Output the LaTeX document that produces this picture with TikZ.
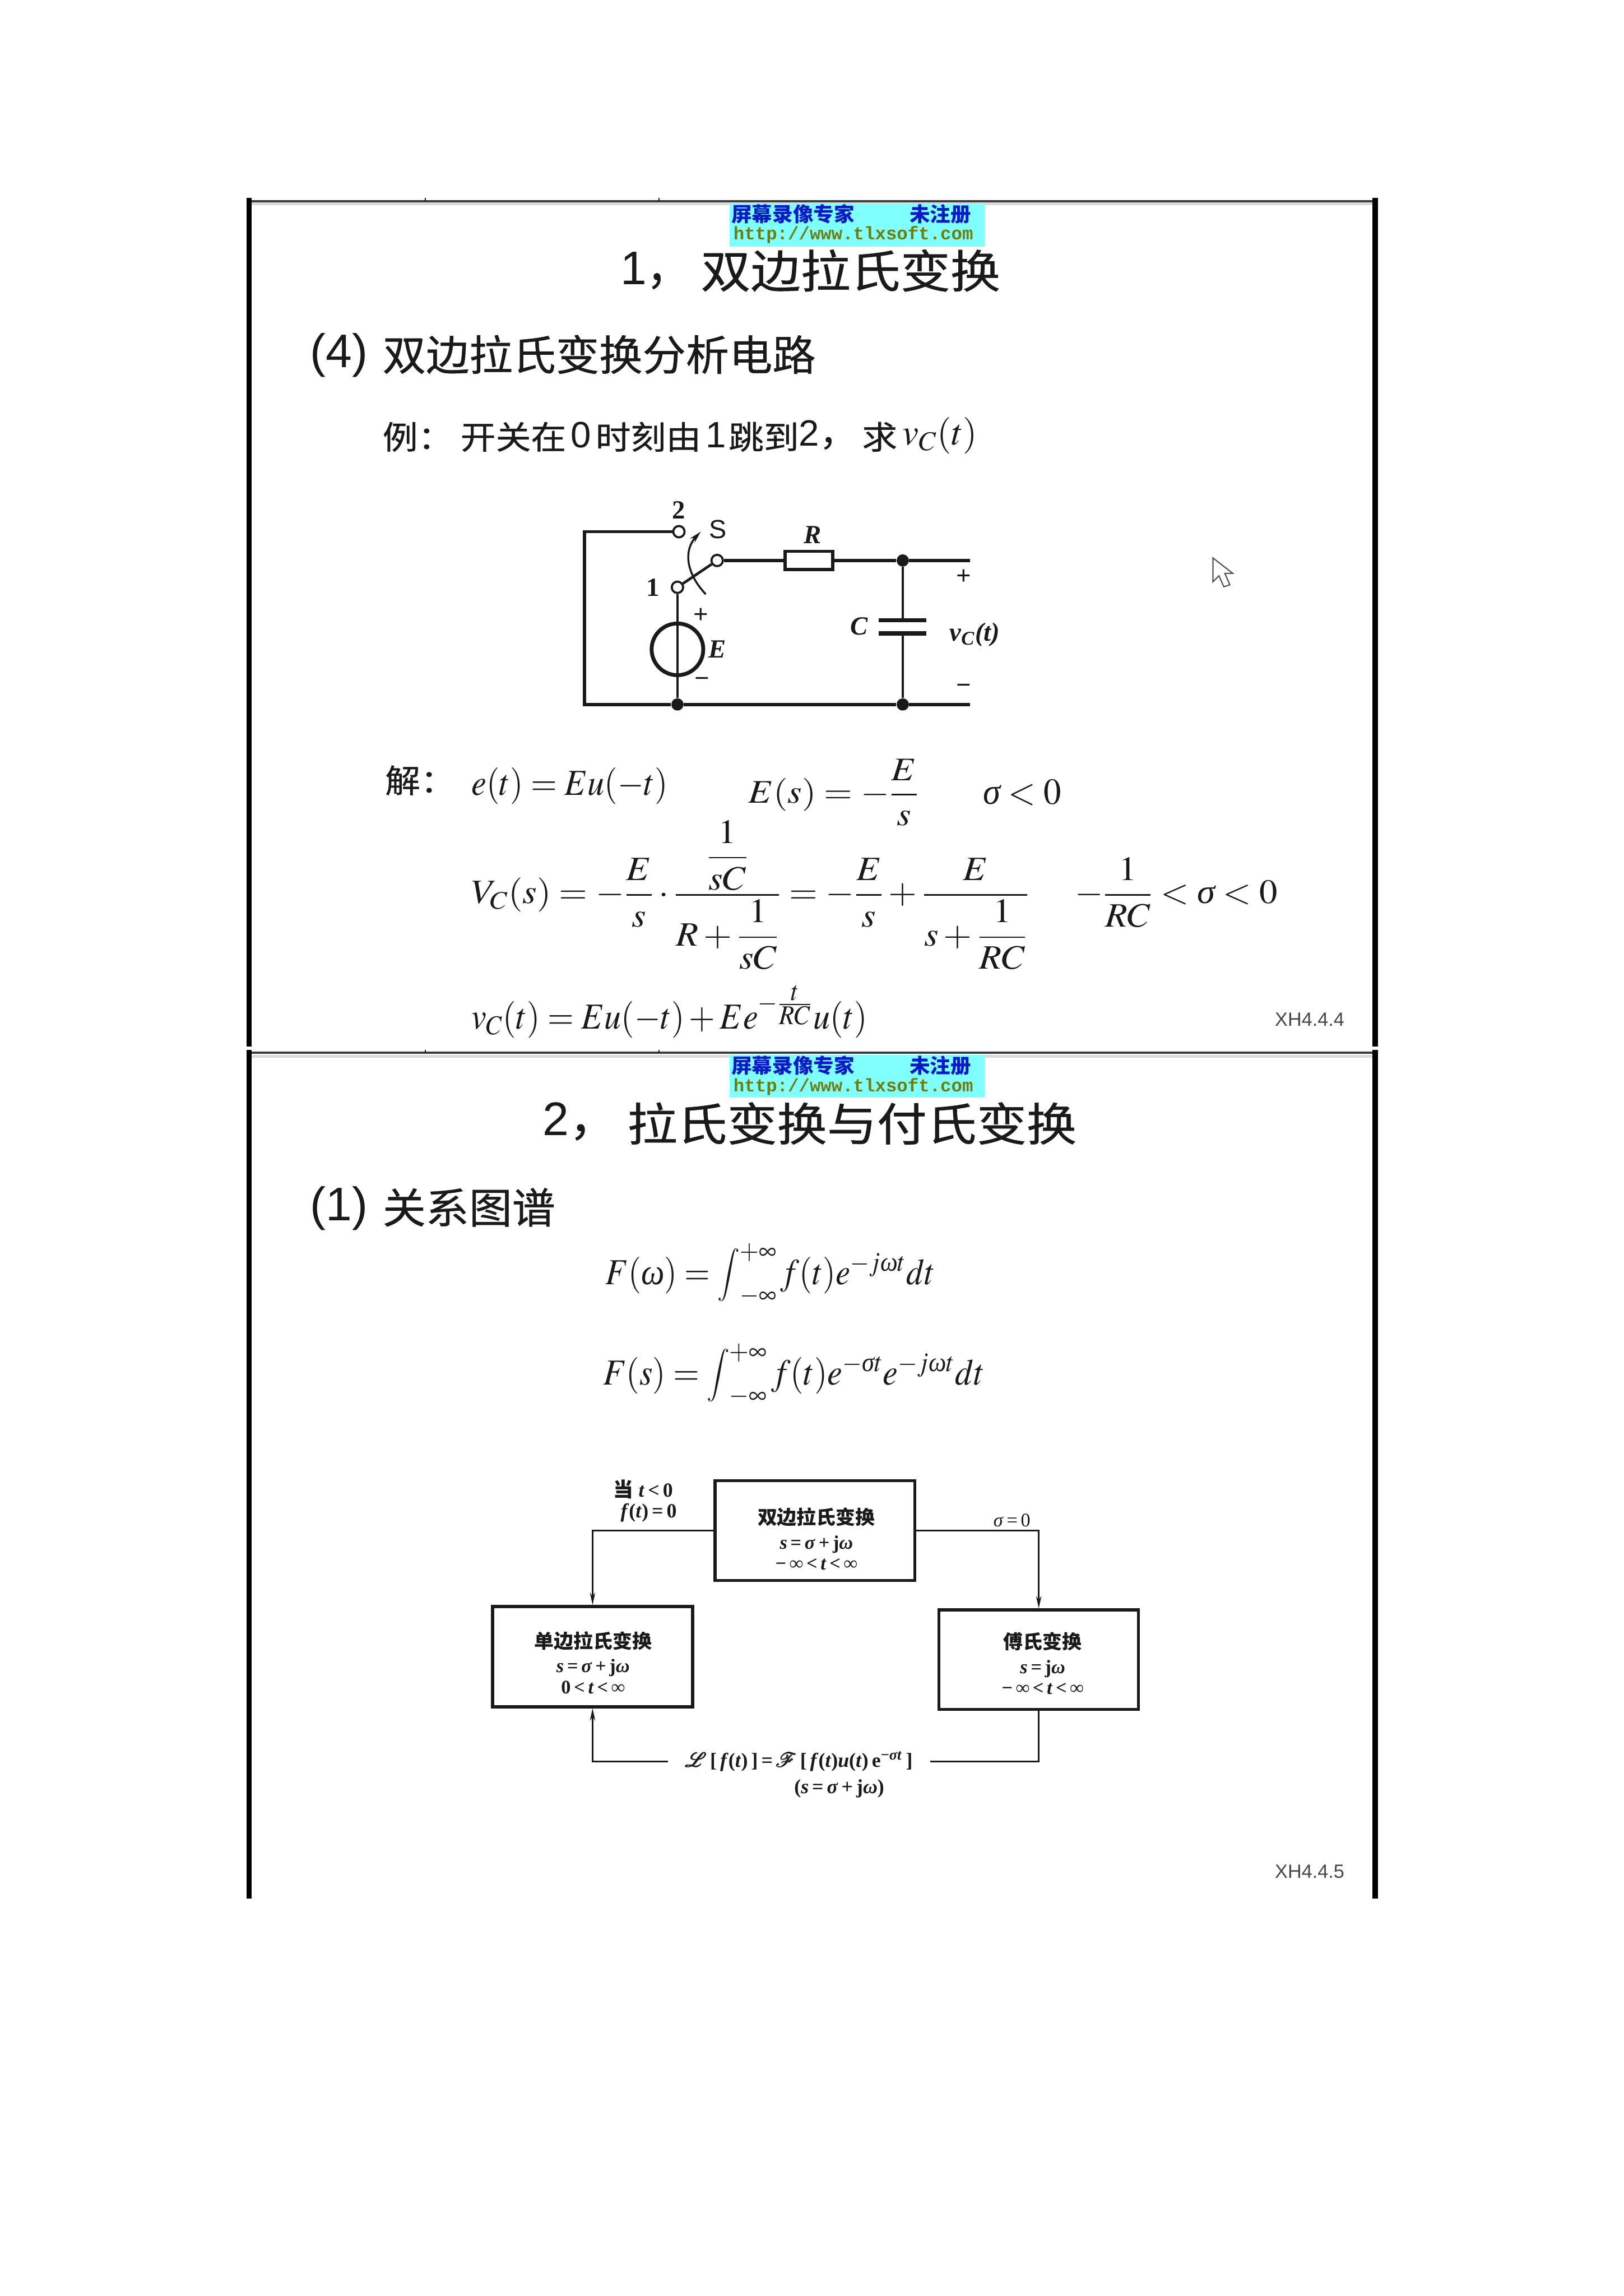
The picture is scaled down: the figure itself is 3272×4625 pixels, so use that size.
\documentclass[tikz,border=0pt]{standalone}
\usepackage{graphicx}
\usepackage{amsmath}
\usepackage{mathptmx}
\usepackage{fontspec}
\setmainfont{Liberation Serif}
\setsansfont{Liberation Sans}
\setmonofont{Liberation Mono}
\newfontfamily\cjkf[UprightFeatures={FakeBold=0.6}]{Noto Sans CJK SC}
\usetikzlibrary{arrows.meta,calc}
\newcommand{\cj}[2][1.15]{\scalebox{#1}[1]{\cjkf #2}}
\newcommand{\fs}[1]{\fontsize{#1}{#1}\selectfont}
\newcommand{\sg}{\text{\itshape σ}}
\newcommand{\og}{\text{\itshape ω}}
\newcommand{\eqx}[3]{\scalebox{#1}[#2]{#3}}
\newcommand{\tallint}{\mathop{\vcenter{\hbox{\scalebox{.75}[.72]{$\displaystyle\int$}}}}\nolimits}
\definecolor{ink}{HTML}{1A1A1A}
\definecolor{wmcyan}{HTML}{80FFFF}
\definecolor{wmblue}{HTML}{0A1AC8}
\definecolor{wmolive}{HTML}{6E7D10}
\tikzset{
  txt/.style={inner sep=0pt,outer sep=0pt,text=ink},
  wl/.style={txt,anchor=west},
  bw/.style={txt,anchor=base west},
  ttl/.style={wl,font=\fs{26}},
  sec/.style={wl,font=\fs{24}},
  numf/.style={wl,font=\sffamily\fs{27}},
  ln/.style={wl,font=\fs{18.5}},
  lnum/.style={wl,font=\sffamily\fs{21}},
  eqn/.style={bw,font=\fs{21}},
  wire/.style={draw=ink,line width=1.9pt},
  plate/.style={draw=ink,line width=2.3pt},
  conn/.style={draw=ink,line width=1.1pt},
  thinwire/.style={draw=ink,line width=1.5pt},
  connarrow/.style={conn,-{Stealth[length=7pt,width=3pt]}},
  term/.style={circle,draw=ink,fill=white,line width=1.2pt,inner sep=0pt,minimum size=6.5pt},
  jdot/.style={circle,fill=ink,inner sep=0pt,minimum size=7pt},
  clab/.style={txt,font=\bfseries\itshape\fs{15}},
  cnum/.style={txt,font=\bfseries\fs{15}},
  blockbox/.style={draw=ink,line width=1.7pt,fill=none,inner sep=0pt},
  blocktxt/.style={txt,align=center,font=\bfseries\fs{11}},
  small/.style={txt,font=\bfseries\fs{11.5}},
  code/.style={wl,font=\sffamily\fs{11},text=ink!80},
  wmbg/.style={fill=wmcyan,draw=none,inner sep=0pt,minimum width=5.13cm,minimum height=0.85cm},
  wmc/.style={wl,text=wmblue,font=\bfseries\fs{11.5}},
  wmu/.style={wl,text=wmolive,font=\ttfamily\bfseries\fs{10.4}},
  bar/.style={draw=black,line width=3pt},
  rule/.style={draw=ink!85,line width=1.3pt},
  shade/.style={draw=black!15,line width=1.6pt},
  tick/.style={draw=ink,line width=0.8pt},
}
\begin{document}
\begin{tikzpicture}[x=0.01cm,y=-0.01cm]
\path[use as bounding box,fill=white] (0,0) rectangle (3272,4625);
% ---- slide frames
\draw[bar] (502,399) -- (502,2108);
\draw[bar] (2771,399) -- (2771,2108);
\draw[bar] (502,2115) -- (502,3824);
\draw[bar] (2771,2115) -- (2771,3824);
\draw[shade] (507,411) -- (2765,411);
\draw[rule] (507,405) -- (2765,405);
\draw[shade] (507,2128) -- (2765,2128);
\draw[rule] (507,2121) -- (2765,2121);
\foreach \tx in {857,1328}{
  \draw[tick] (\tx,399) -- (\tx,405);
  \draw[tick] (\tx,2115) -- (\tx,2121);
}
% ---- watermarks
\node[wmbg] (wma) at (1727,454) {};
\node[wmc] (wma1) at (1474,431) {\cj[1.02]{屏幕录像专家}};
\node[wmc] (wma2) at (1833,431) {\cj[1.02]{未注册}};
\node[wmu] (wma3) at (1478,473) {http://www.tlxsoft.com};
\node[wmbg] (wmb) at (1727,2168) {};
\node[wmc] (wmb1) at (1474,2146) {\cj[1.02]{屏幕录像专家}};
\node[wmc] (wmb2) at (1833,2146) {\cj[1.02]{未注册}};
\node[wmu] (wmb3) at (1478,2189) {http://www.tlxsoft.com};
% ---- slide 1 headings
\node[numf] (t1n) at (1250,545) {1\cj[.9]{，}};
\node[ttl] (t1) at (1412,545) {\cj[1.1]{双边拉氏变换}};
\node[numf] (s1n) at (625,716) {(4)};
\node[sec] (s1) at (771,714) {\cj[1.034]{双边拉氏变换分析电路}};
\node[ln] (e1) at (771,880) {\cj[1.09]{例：}};
\node[ln] (e2) at (928,880) {\cj[1.09]{开关在}};
\node[lnum] (e3) at (1150,876) {0};
\node[ln] (e4) at (1200,880) {\cj[1.09]{时刻由}};
\node[lnum] (e5) at (1422,876) {1};
\node[ln] (e6) at (1468,880) {\cj[1.09]{跳到}};
\node[lnum] (e7) at (1610,876) {2\cj[1]{，}};
\node[ln] (e8) at (1737,880) {\cj[1.09]{求}};
\node[bw,font=\fs{21}] (e9) at (1819,896) {$v_C(t)$};
% ---- circuit
\coordinate (tlc) at (1178,1071);
\coordinate (blc) at (1178,1419);
\coordinate (vout) at (1955,1129);
\coordinate (gout) at (1955,1419);
\node[term] (t2) at (1368,1071) {};
\node[term] (t1p) at (1365,1183) {};
\node[term] (ts) at (1445,1129) {};
\node[draw=ink,line width=1.9pt,fill=white,minimum width=0.96cm,minimum height=0.37cm,inner sep=0pt] (R) at (1630,1129) {};
\node[jdot] (j1) at (1819,1129) {};
\node[jdot] (j2) at (1819,1419) {};
\node[jdot] (j3) at (1365,1419) {};
\node[draw=ink,line width=2.2pt,circle,minimum size=1.04cm,inner sep=0pt] (src) at (1365,1308) {};
\coordinate (c1) at (1819,1249);
\coordinate (c2) at (1819,1276);
\draw[wire] (t2) -- (tlc) -- (blc) -- (j3) -- (j2) -- (gout);
\draw[wire] (ts) -- (R) -- (j1) -- (vout);
\draw[thinwire] (j1) -- (c1) (c2) -- (j2);
\draw[plate] (1770,1249) -- (1866,1249) (1770,1276) -- (1866,1276);
\draw[thinwire] (t1p) -- (j3);
\draw[thinwire] (t1p) -- (ts);
\draw[conn,-{Stealth[length=7pt,width=3.5pt]}] (1422,1197) .. controls (1378,1150) and (1380,1105) .. (1412,1071);
\node[cnum] (l2) at (1368,1027) {2};
\node[txt,font=\sffamily\fs{15}] (lS) at (1446,1066) {S};
\node[clab] (lR) at (1637,1078) {R};
\node[cnum] (l1) at (1316,1183) {1};
\node[cnum] (lp1) at (1412,1240) {+};
\node[clab] (lE) at (1445,1308) {E};
\node[cnum] (lm1) at (1415,1374) {\textminus};
\node[cnum] (lp2) at (1942,1162) {+};
\node[cnum] (lm2) at (1942,1388) {\textminus};
\node[clab] (lC) at (1731,1262) {C};
\node[clab] (lV) at (1964,1278) {v\textsubscript{C}(t)};
% ---- cursor
\draw[draw=ink!75,fill=white,line width=0.7pt,line join=miter] (2444,1124) -- (2444,1172) -- (2456,1160) -- (2466,1182) -- (2478,1178) -- (2468,1155) -- (2484,1155) -- cycle;
% ---- solution
\node[ln] (sol) at (776,1572) {\cj[1.09]{解：}};
\node[eqn] (q1) at (950,1602) {\eqx{.92}{1}{$e(t)=Eu(-t)$}};
\node[eqn] (q2) at (1508,1617) {\eqx{1}{.9}{$E(s)=-\dfrac{E}{s}$}};
\node[eqn] (q3) at (1981,1620) {\eqx{.96}{1}{$\sg<0$}};
\node[eqn] (q4) at (950,1820) {\eqx{1}{.93}{$V_C(s)=-\dfrac{E}{s}\cdot\dfrac{\dfrac{1}{sC}}{R+\dfrac{1}{sC}}=-\dfrac{E}{s}+\dfrac{E}{s+\dfrac{1}{RC}}$}};
\node[eqn] (q5) at (2166,1820) {\eqx{.99}{.93}{$-\dfrac{1}{RC}<\sg<0$}};
\node[eqn] (q6) at (950,2072) {\eqx{.92}{1}{$v_C(t)=Eu(-t)+Ee^{-\frac{\scriptstyle t}{\scriptstyle RC}}u(t)$}};
\node[code] (x1) at (2569,2054) {XH4.4.4};
% ---- slide 2 headings
\node[numf] (t2n) at (1094,2259) {2\cj[1]{，}};
\node[ttl] (t2t) at (1264,2263) {\cj[1.1]{拉氏变换与付氏变换}};
\node[numf] (s2n) at (625,2434) {(1)};
\node[sec] (s2) at (771,2432) {\cj[1.03]{关系图谱}};
\node[eqn] (q7) at (1220,2587) {\eqx{.9}{1}{$F(\og)=\tallint_{-\infty}^{+\infty}f(t)e^{-j\og t}dt$}};
\node[eqn] (q8) at (1215,2789) {\eqx{.92}{1}{$F(s)=\tallint_{-\infty}^{+\infty}f(t)e^{-\sg t}e^{-j\og t}dt$}};
% ---- relation chart
\node[blockbox,minimum width=4.02cm,minimum height=2.01cm] (tb) at (1642,3083) {};
\node[blockbox,minimum width=4.03cm,minimum height=2.02cm] (lb) at (1194,3337) {};
\node[blockbox,minimum width=4.02cm,minimum height=2cm] (rb) at (2093,3343) {};
\node[blocktxt] (tbt) at (1645,3100) {\cj[1.02]{双边拉氏变换}\\[3pt] \textit{s}\,=\,\textit{σ}\,+\,j\textit{ω}\\[1pt] \textminus\,∞\,<\,\textit{t}\,<\,∞};
\node[blocktxt] (lbt) at (1195,3349) {\cj[1.02]{单边拉氏变换}\\[3pt] \textit{s}\,=\,\textit{σ}\,+\,j\textit{ω}\\[1pt] 0\,<\,\textit{t}\,<\,∞};
\node[blocktxt] (rbt) at (2101,3351) {\cj[1.02]{傅氏变换}\\[3pt] \textit{s}\,=\,j\textit{ω}\\[1pt] \textminus\,∞\,<\,\textit{t}\,<\,∞};
\node[small,inner xsep=10pt] (lab) at (1610,3548) {$\pmb{\mathcal{L}}$\,[\,\textit{f}(\textit{t})\,]\,=\,$\pmb{\mathcal{F}}$\,[\,\textit{f}(\textit{t})\textit{u}(\textit{t})\,e\textsuperscript{\textminus\textit{σt}}\,]};
\node[small] (lab2) at (1691,3603) {(\textit{s}\,=\,\textit{σ}\,+\,j\textit{ω})};
\node[small] (la1) at (1296,3000) {\cj[1]{当}~\textit{t}\,<\,0};
\node[small] (la2) at (1307,3047) {\textit{f}(\textit{t})\,=\,0};
\node[txt,font=\fs{11}] (la3) at (2039,3062) {\textit{σ}\,=\,0};
\draw[connarrow] (tb.west) -| (lb.north);
\draw[connarrow] (tb.east) -| (rb.north);
\draw[conn] (rb.south) |- (lab.east);
\draw[connarrow] (lab.west) -| (lb.south);
\node[code] (x2) at (2569,3770) {XH4.4.5};
\end{tikzpicture}
\end{document}
